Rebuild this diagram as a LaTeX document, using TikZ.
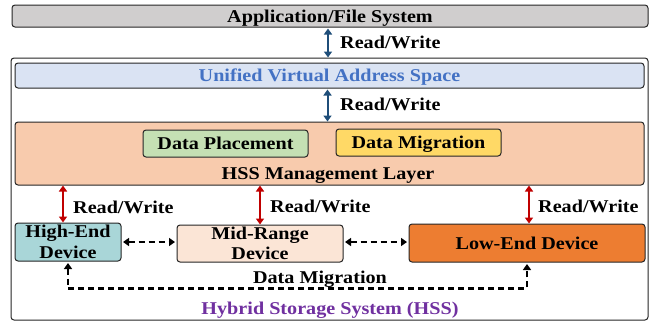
\documentclass[tikz,border=0pt]{standalone}
\usepackage{fontspec}
\setmainfont{Liberation Serif}[FakeStretch=1.12]
\usetikzlibrary{arrows.meta,calc}
\definecolor{appgray}{HTML}{D0CECE}
\definecolor{uvfill}{HTML}{DAE3F3}
\definecolor{uvtext}{HTML}{4472C4}
\definecolor{layerfill}{HTML}{F8CBAD}
\definecolor{placefill}{HTML}{C5E0B4}
\definecolor{migfill}{HTML}{FFD966}
\definecolor{hifill}{HTML}{A9D6D8}
\definecolor{midfill}{HTML}{FBE5D6}
\definecolor{lowfill}{HTML}{ED7D31}
\definecolor{hsspurple}{HTML}{7030A0}
\definecolor{rwblue}{HTML}{1F4E79}
\definecolor{rwred}{HTML}{C00000}
\definecolor{edge}{HTML}{262626}
\begin{document}
\begin{tikzpicture}[x=1pt,y=-1pt,
  font=\fontsize{18}{18}\selectfont\bfseries,
  boxbase/.style={draw=edge,line width=1pt,rounded corners=3pt,inner sep=0pt,align=center},
  box/.style={boxbase,text height=12pt,text depth=0pt},
  twoline/.style={boxbase,font=\fontsize{18}{20.5}\selectfont\bfseries},
  lbl/.style={inner sep=0pt,text height=12pt,text depth=0pt},
  bluearrow/.style={draw=rwblue,line width=2pt,{Triangle[length=6pt,width=8pt]}-{Triangle[length=6pt,width=8pt]}},
  redarrow/.style={draw=rwred,line width=2pt,{Triangle[length=6pt,width=8pt]}-{Triangle[length=6pt,width=8pt]}},
  dasharrow/.style={draw=black,line width=2.2pt,dash pattern=on 6pt off 4pt,{Triangle[length=6pt,width=8pt]}-{Triangle[length=6pt,width=8pt]}}
]
\useasboundingbox (0,0) rectangle (655,322);

% outer HSS box
\node[box,fill=white,minimum width=637pt,minimum height=262pt] (hss) at (329.5,189) {};
% application box
\node[box,fill=appgray,minimum width=636pt,minimum height=22pt] (app) at (330,16) {Application/File System};
% unified virtual address space
\node[box,fill=uvfill,text=uvtext,minimum width=629pt,minimum height=25pt] (uva) at (329.5,75.5) {Unified Virtual Address Space};
% management layer
\node[box,fill=layerfill,minimum width=629pt,minimum height=63pt] (layer) at (329.5,153.5) {};
\node[lbl] (layertxt) at (328,173) {HSS Management Layer};
\node[box,fill=placefill,minimum width=165pt,minimum height=27pt] (place) at (225.5,143.5) {Data Placement};
\node[box,fill=migfill,minimum width=165pt,minimum height=27pt] (mig) at (418.5,142.5) {Data Migration};
% devices
\node[twoline,fill=hifill,minimum width=106pt,minimum height=38pt] (hi) at (68,242) {High-End\\Device};
\node[twoline,fill=midfill,minimum width=166pt,minimum height=37pt] (mid) at (260,243.5) {Mid-Range\\Device};
\node[box,fill=lowfill,minimum width=236pt,minimum height=38pt] (low) at (527,243) {Low-End Device};

% read/write arrows
\draw[bluearrow] (app.south) ++(-2,1) coordinate (b1a) -- (b1a |- hss.north);
\node[lbl,anchor=west] (rw1) at (340,42) {Read/Write};
\draw[bluearrow] (uva.south) ++(-2,1) coordinate (b2a) -- (b2a |- layer.north);
\node[lbl,anchor=west] (rw2) at (340,104) {Read/Write};

\coordinate (x1) at (63,0);
\coordinate (x2) at (260,0);
\coordinate (x3) at (529,0);
\draw[redarrow] (layer.south -| x1) -- (hi.north -| x1);
\draw[redarrow] (layer.south -| x2) -- (mid.north -| x2);
\draw[redarrow] (layer.south -| x3) -- (low.north -| x3);
\node[lbl,anchor=west] (rw3) at (73,207) {Read/Write};
\node[lbl,anchor=west] (rw4) at (270,206) {Read/Write};
\node[lbl,anchor=west] (rw5) at (538,206) {Read/Write};

% migration arrows
\draw[dasharrow,shorten <=1.5pt,shorten >=1.5pt] (hi.east) -- (mid.west |- hi.east);
\draw[dasharrow,shorten <=1.5pt,shorten >=1.5pt] (mid.east |- hi.east) -- (low.west |- hi.east);
\draw[dasharrow,shorten <=1.5pt,shorten >=1.5pt,rounded corners=0pt] (hi.south) -- ++(0,27) -| (low.south);
\node[lbl] (dmtxt) at (320,277) {Data Migration};

\node[lbl,text=hsspurple] (hsstxt) at (330,308) {Hybrid Storage System (HSS)};
\end{tikzpicture}
\end{document}
